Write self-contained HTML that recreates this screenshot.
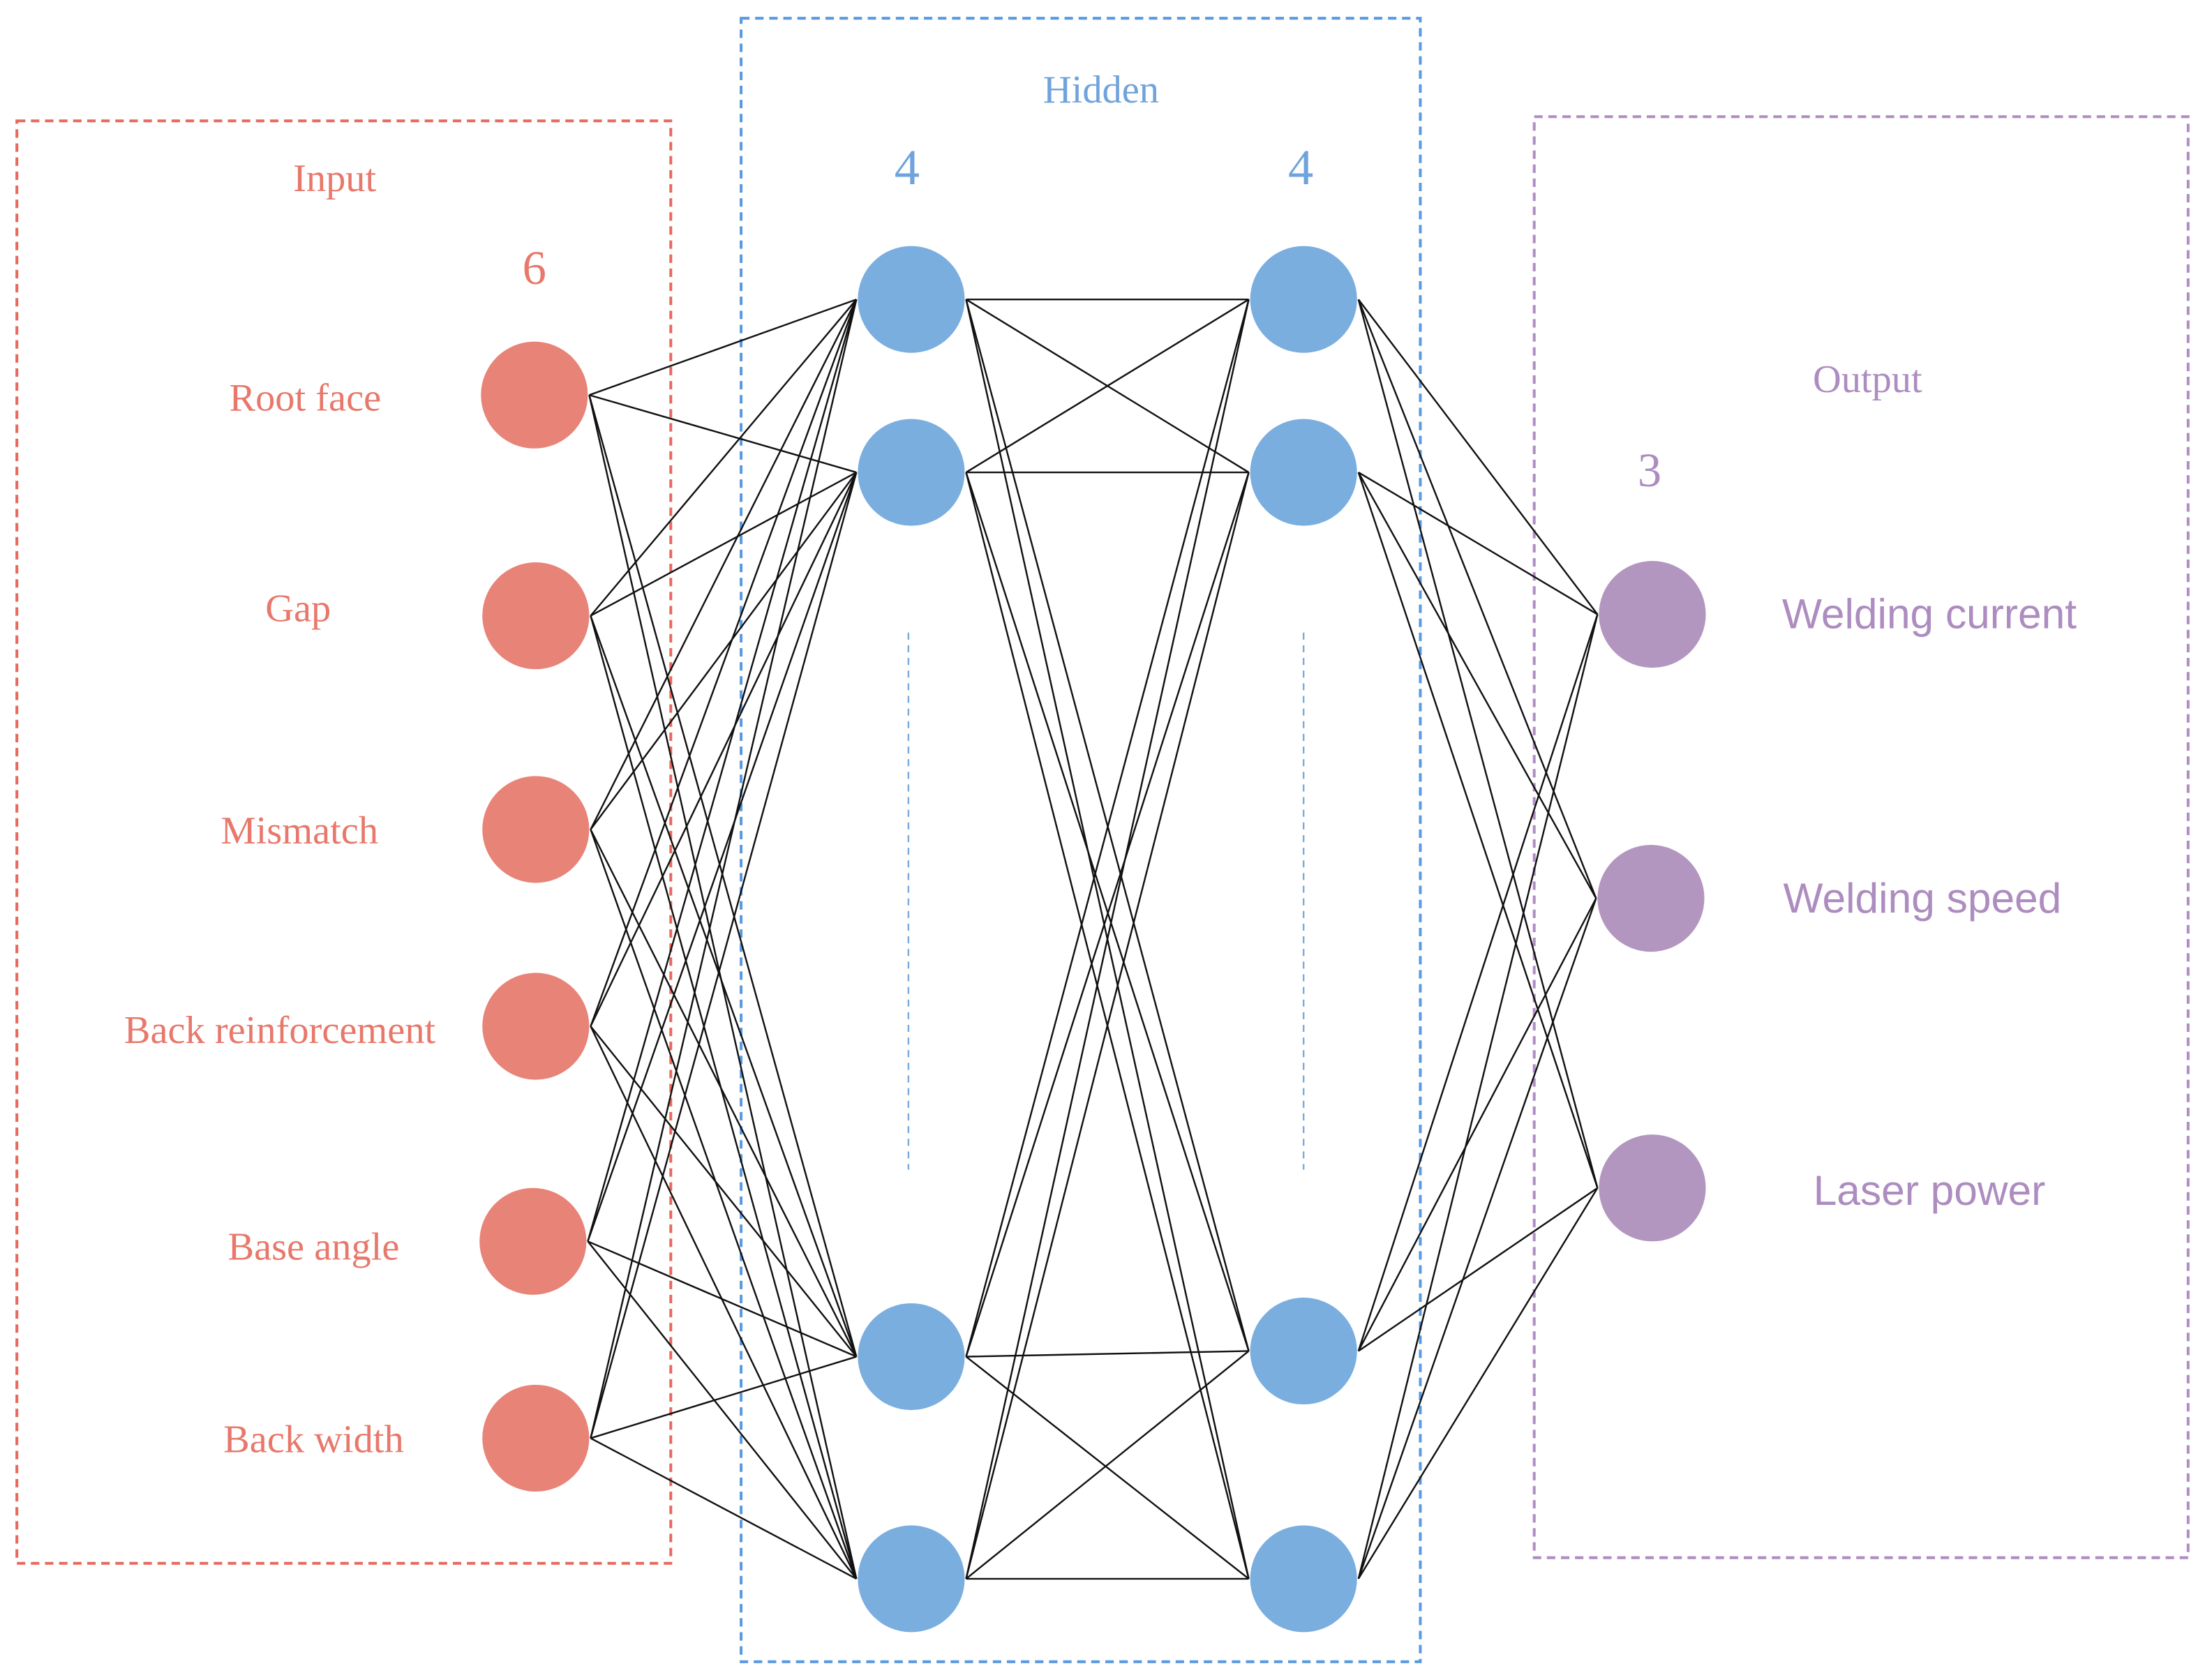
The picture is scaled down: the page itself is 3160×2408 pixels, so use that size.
<!DOCTYPE html>
<html><head><meta charset="utf-8"><style>html,body{margin:0;padding:0;background:#fff}svg{display:block}</style></head><body>
<svg width="3160" height="2408" viewBox="0 0 1568 1195" preserveAspectRatio="none" xmlns="http://www.w3.org/2000/svg">
<rect x="12" y="86" width="465" height="1026" fill="none" stroke="#e8685c" stroke-width="2" stroke-dasharray="6,4"/>
<rect x="527" y="13" width="483" height="1169" fill="none" stroke="#5a9ae0" stroke-width="2" stroke-dasharray="6,4"/>
<rect x="1091" y="83" width="465" height="1025" fill="none" stroke="#b08cc4" stroke-width="2" stroke-dasharray="6,4"/>
<line x1="646" y1="450" x2="646" y2="832" stroke="#7aabdc" stroke-width="1.2" stroke-dasharray="5,4"/>
<line x1="927" y1="450" x2="927" y2="832" stroke="#7aabdc" stroke-width="1.2" stroke-dasharray="5,4"/>
<g stroke="#111" stroke-width="1.2" id="lines"></g>
<g font-family="'Liberation Serif',serif" fill="#e8786b" font-size="28">
<text x="238" y="136" text-anchor="middle">Input</text>
<text x="380" y="202" text-anchor="middle" font-size="34">6</text>
<text x="217" y="292" text-anchor="middle">Root face</text>
<text x="212" y="442" text-anchor="middle">Gap</text>
<text x="213" y="600" text-anchor="middle">Mismatch</text>
<text x="199" y="742" text-anchor="middle">Back reinforcement</text>
<text x="223" y="896" text-anchor="middle">Base angle</text>
<text x="223" y="1033" text-anchor="middle">Back width</text>
</g>
<g font-family="'Liberation Serif',serif" fill="#6fa3dc">
<text x="783" y="73" text-anchor="middle" font-size="28">Hidden</text>
<text x="645" y="131" text-anchor="middle" font-size="36">4</text>
<text x="925" y="131" text-anchor="middle" font-size="36">4</text>
</g>
<g fill="#ad8cc0">
<text x="1328" y="279" text-anchor="middle" font-size="28" font-family="'Liberation Serif',serif">Output</text>
<text x="1173" y="346" text-anchor="middle" font-size="34" font-family="'Liberation Serif',serif">3</text>
<g font-family="'Liberation Sans',sans-serif" font-size="30">
<text x="1372" y="447" text-anchor="middle">Welding current</text>
<text x="1367" y="649" text-anchor="middle">Welding speed</text>
<text x="1372" y="857" text-anchor="middle">Laser power</text>
</g></g>
<g id="nodes"></g>
<script>
var ns="http://www.w3.org/2000/svg";
var inp=[[380,281],[381,438],[381,590],[381,730],[379,883],[381,1023]];
var h1=[[648,213],[648,336],[648,965],[648,1123]];
var h2=[[927,213],[927,336],[927,961],[927,1123]];
var out=[[1175,437],[1174,639],[1175,845]];
var L=document.getElementById("lines"),N=document.getElementById("nodes");
function con(a,b,r){a.forEach(function(p){b.forEach(function(q){var l=document.createElementNS(ns,"line");l.setAttribute("x1",p[0]+r);l.setAttribute("y1",p[1]);l.setAttribute("x2",q[0]-r);l.setAttribute("y2",q[1]);L.appendChild(l);});});}
con(inp,h1,39);con(h1,h2,39);con(h2,out,39);
function dr(a,c){a.forEach(function(p){var e=document.createElementNS(ns,"circle");e.setAttribute("cx",p[0]);e.setAttribute("cy",p[1]);e.setAttribute("r",38);e.setAttribute("fill",c);N.appendChild(e);});}
dr(inp,"#e88378");dr(h1,"#7aaedf");dr(h2,"#7aaedf");dr(out,"#b396bf");
</script>
</svg>
</body></html>
